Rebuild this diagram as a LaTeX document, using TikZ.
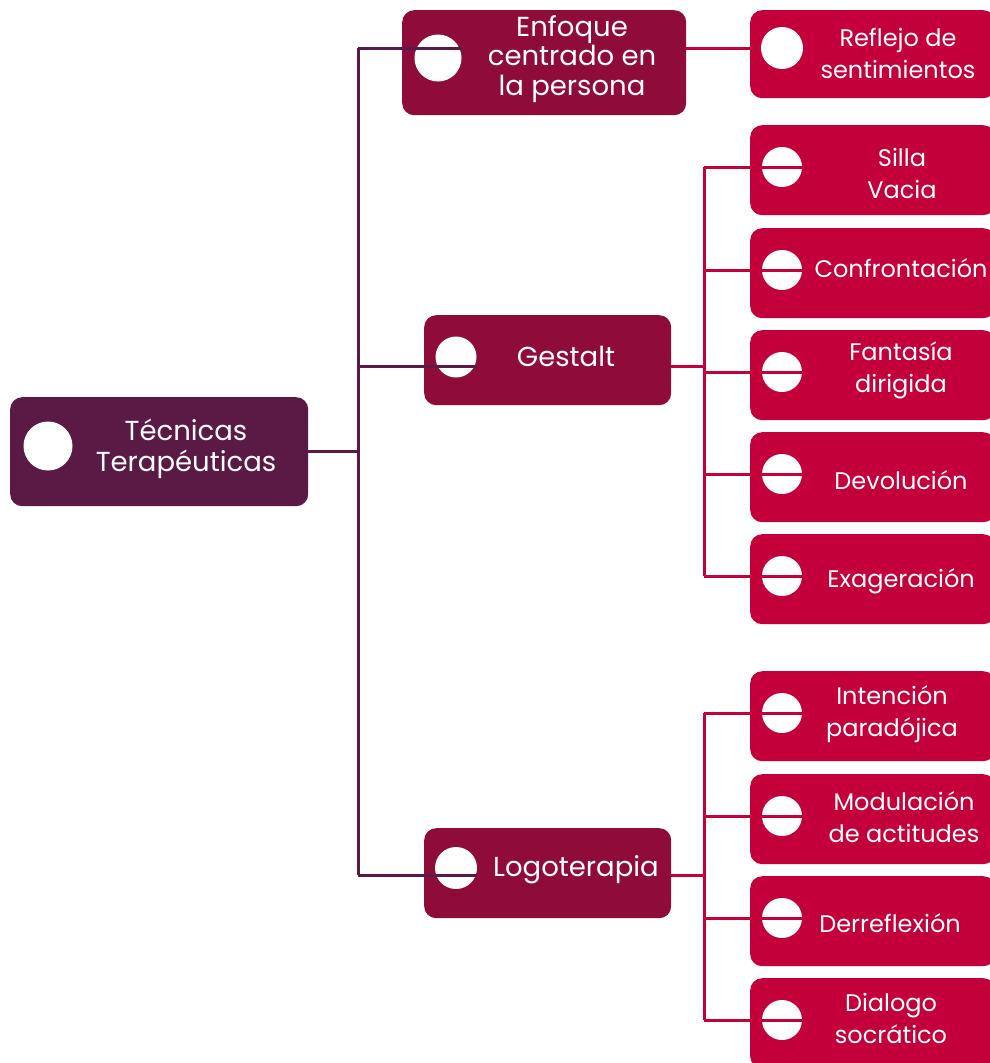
\documentclass[tikz,border=0pt]{standalone}
\usepackage{fontspec}
\setmainfont{Poppins}
\usetikzlibrary{calc}
\definecolor{rootc}{RGB}{91,26,70}
\definecolor{midc}{RGB}{143,12,58}
\definecolor{leafc}{RGB}{196,0,58}
\tikzset{
  box/.style={rounded corners=12pt, inner sep=0pt, anchor=north west},
  rootbox/.style={box, fill=rootc},
  midbox/.style={box, fill=midc},
  leafbox/.style={box, fill=leafc},
  dot/.style={circle, fill=white, inner sep=0pt},
  txt/.style={text=white, align=center, font=\fontsize{24}{32}\selectfont, inner sep=0pt},
  bigtxt/.style={txt, font=\fontsize{27.5}{31}\selectfont},
  l1line/.style={draw=rootc, line width=3pt},
  l2line/.style={draw=leafc, line width=3pt},
}
\begin{document}
\begin{tikzpicture}[x=1pt,y=-1pt]
\useasboundingbox (0,0) rectangle (990,1063);
\begin{scope}
\clip (0,0) rectangle (990,1063);
% root
\node[rootbox, minimum width=298pt, minimum height=109pt] (root) at (10,397) {};
\node[dot, minimum size=49pt] (rootC) at (48,446) {};
\node[bigtxt] (rootT) at (186,449) {Técnicas\\Terapéuticas};
% level 1
\node[midbox, minimum width=284pt, minimum height=105pt] (enf) at (402,10) {};
\node[dot, minimum size=47pt] (enfC) at (438,58) {};
\node[bigtxt, font=\fontsize{27.5}{29.5}\selectfont] (enfT) at (572,59) {Enfoque\\centrado en\\la persona};
\node[midbox, minimum width=247pt, minimum height=90pt] (ges) at (424,315) {};
\node[dot, minimum size=41pt] (gesC) at (456,357) {};
\node[bigtxt] (gesT) at (566,356) {Gestalt};
\node[midbox, minimum width=247pt, minimum height=90pt] (logo) at (424,828) {};
\node[dot, minimum size=42pt] (logoC) at (456,868) {};
\node[bigtxt] (logoT) at (576,870) {Logoterapia};
% level 2
\node[leafbox, minimum width=245pt, minimum height=88pt] (refl) at (750,10) {};
\node[dot, minimum size=42pt] (reflC) at (782,48) {};
\node[txt] (reflT) at (898,53) {Reflejo de\\sentimientos};
\foreach \n/\t/\ly/\tx/\ty in {
  silla/{Silla\\Vacia}/125/902/173,
  conf/{Confrontación}/228/901/268,
  fant/{Fantasía\\dirigida}/330/901/370,
  devo/{Devolución}/432/901/480,
  exag/{Exageración}/534/901/581,
  inte/{Intención\\paradójica}/671/892/714,
  modu/{Modulación\\de actitudes}/774/904/817,
  derr/{Derreflexión}/876/890/923,
  dial/{Dialogo\\socrático}/978/891/1018}{
  \node[leafbox, minimum width=245pt, minimum height=90pt] (\n) at (750,\ly) {};
  \node[dot, minimum size=40pt] (\n C) at (782,\ly+42) {};
  \node[txt] (\n T) at (\tx,\ty) {\t};
}
% connectors
\coordinate (tTop) at (358,48);
\coordinate (tG) at (358,366);
\coordinate (tBot) at (358,875);
\draw[l1line] (root.east) -- (root.east -| tTop);
\draw[l1line] (tTop) -- (tBot);
\draw[l1line] (tTop) -- (enfC.east |- tTop);
\draw[l1line] (tG) -- (gesC.east |- tG);
\draw[l1line] (tBot) -- (logoC.east |- tBot);
\draw[l2line] (enf.east |- tTop) -- (refl.west |- tTop);
\coordinate (gb) at (704,366);
\coordinate (lb) at (704,875);
\draw[l2line] (ges.east |- gb) -- (gb);
\draw[l2line] (logo.east |- lb) -- (lb);
\draw[l2line] (gb |- sillaC) -- (gb |- exagC);
\draw[l2line] (lb |- inteC) -- (lb |- dialC);
\foreach \n in {silla,conf,fant,devo,exag}{
  \draw[l2line] (gb |- \n C) -- (\n C.east);
}
\foreach \n in {inte,modu,derr,dial}{
  \draw[l2line] (lb |- \n C) -- (\n C.east);
}
\end{scope}
\end{tikzpicture}
\end{document}
